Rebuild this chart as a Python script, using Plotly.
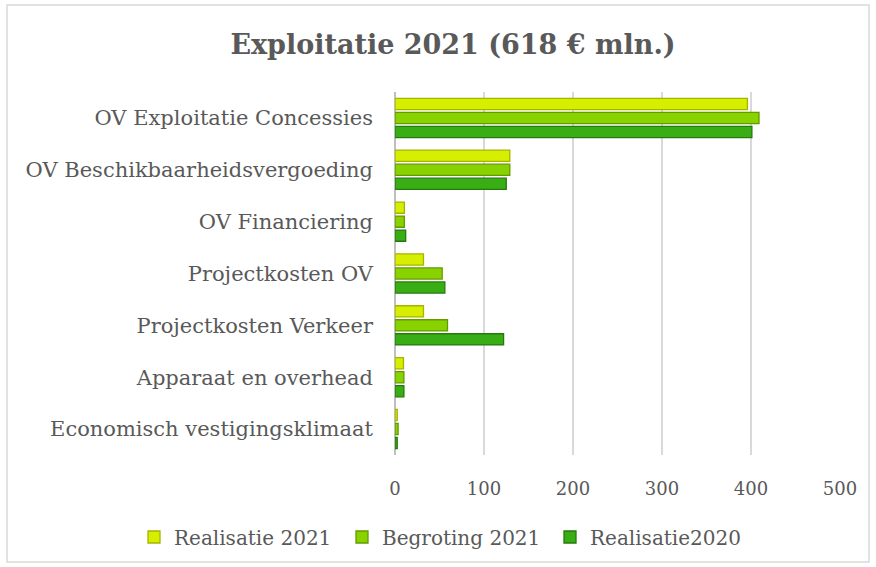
import plotly.graph_objects as go

categories = [
    "OV Exploitatie Concessies",
    "OV Beschikbaarheidsvergoeding",
    "OV Financiering",
    "Projectkosten OV",
    "Projectkosten Verkeer",
    "Apparaat en overhead",
    "Economisch vestigingsklimaat",
]
realisatie_2021 = [396, 129, 10.5, 32, 32, 9.5, 2.5]
begroting_2021 = [409, 129, 10.5, 53, 59, 10, 3.5]
realisatie_2020 = [401, 125, 12, 56, 122, 10, 2.5]
series_names = ["Realisatie 2021", "Begroting 2021", "Realisatie2020"]
x_ticks = [0, 100, 200, 300, 400, 500]

FONT = "DejaVu Serif"
fills = ["#d6ef00", "#88d200", "#38ae14"]
lines = ["#a6b400", "#649a00", "#267a0c"]

fig = go.Figure()
for name, vals, fc, lc in zip(series_names, [realisatie_2021, begroting_2021, realisatie_2020], fills, lines):
    fig.add_trace(go.Bar(
        y=categories, x=vals, name=name, orientation="h",
        marker=dict(color=fc, line=dict(color=lc, width=1.3)),
    ))

L, R, T, B = 395, 36, 92, 112
W, H = 876, 567
pw, ph = W - L - R, H - T - B

def px2x(px):
    return (px - L) / pw

def py2y(py):
    return (H - B - py) / ph

fig.add_shape(type="rect", xref="paper", yref="paper",
              x0=px2x(7), x1=px2x(869), y0=py2y(562), y1=py2y(5),
              line=dict(color="#d9d9d9", width=1.5), fillcolor="rgba(0,0,0,0)", layer="below")

fig.update_layout(
    width=W, height=H,
    margin=dict(l=L, r=R, t=T, b=B, autoexpand=False),
    paper_bgcolor="white", plot_bgcolor="white",
    barmode="group", bargap=0.19, bargroupgap=0.2,
    title=dict(text="<b>Exploitatie 2021 (618 € mln.)</b>", x=453 / W, xref="container",
               xanchor="center", y=1 - 45 / H, yref="container", yanchor="middle",
               font=dict(family=FONT, size=27, color="#595959")),
    font=dict(family=FONT, color="#595959"),
    xaxis=dict(range=[0, 500], tickvals=x_ticks, showgrid=True, gridcolor="#d9d9d9", gridwidth=1.5,
               zeroline=True, zerolinecolor="#bfbfbf", zerolinewidth=1.5,
               tickfont=dict(family=FONT, size=18, color="#595959"), ticklabelstandoff=21, fixedrange=True),
    yaxis=dict(autorange="reversed", tickfont=dict(family=FONT, size=21, color="#595959"),
               ticklabelstandoff=21, showgrid=False, fixedrange=True),
    legend=dict(orientation="h", xref="paper", yref="paper",
                x=px2x(134), xanchor="left", y=py2y(537), yanchor="middle",
                entrywidth=163, entrywidthmode="pixels",
                font=dict(family=FONT, size=20, color="#595959"), traceorder="normal"),
    showlegend=True,
)

fig.write_html("out.html", config={"displayModeBar": False},
               post_script="document.body.style.margin='0';document.body.style.padding='0';")
